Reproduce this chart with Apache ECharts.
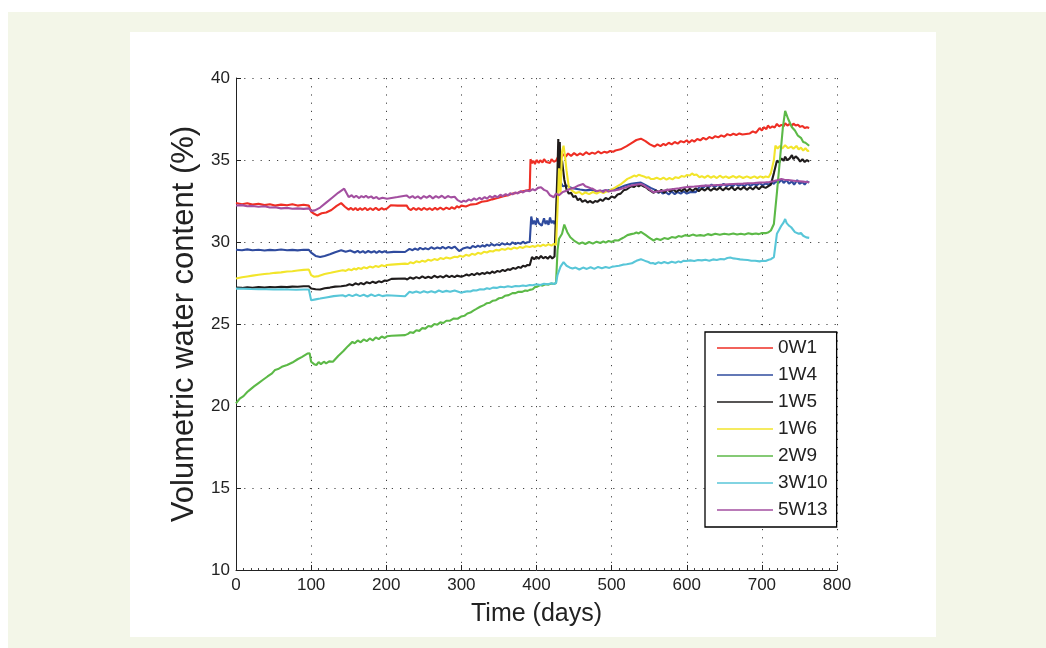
<!DOCTYPE html>
<html>
<head>
<meta charset="utf-8">
<script src="https://cdn.jsdelivr.net/npm/echarts@6/dist/echarts.min.js"></script>
<style>
html,body{margin:0;padding:0;background:#ffffff;}
#chart{width:1046px;height:648px;}
</style>
</head>
<body>
<div id="chart"></div>
<script>
const seriesNames = ['0W1','1W4','1W5','1W6','2W9','3W10','5W13'];
const xTicks = [0,100,200,300,400,500,600,700,800];
const yTicks = [10,15,20,25,30,35,40];

const s0W1 = [[0,32.38],[8,32.3],[15,32.36],[22,32.28],[30,32.33],[38,32.25],[45,32.3],[52,32.22],[60,32.28],[68,32.24],[75,32.3],[82,32.22],[90,32.27],[97,32.22],[100,31.85],[104,31.72],[108,31.62],[114,31.75],[120,31.8],[127,31.95],[134,32.2],[140,32.37],[145,32.15],[150,31.97],[153,32.08],[156,31.95],[159,32.07],[162,31.93],[165,32.06],[168,31.96],[172,32.08],[175,31.94],[179,32.06],[182,31.95],[186,32.08],[190,31.95],[194,32.07],[197,31.98],[201,32.04],[203,32.0],[206,32.24],[215,32.22],[227,32.23],[230,32.02],[233,31.95],[236,32.08],[240,31.96],[243,32.06],[247,31.95],[250,32.08],[254,31.97],[258,32.06],[261,31.95],[265,32.08],[268,31.98],[272,32.1],[276,31.98],[280,32.1],[284,32.0],[287,32.12],[291,32.02],[294,32.18],[297,32.1],[300,32.22],[306,32.17],[312,32.28],[320,32.32],[327,32.45],[334,32.5],[341,32.6],[348,32.68],[355,32.78],[362,32.85],[368,32.95],[375,33.0],[382,33.1],[388,33.15],[391,33.18],[392,35.05],[394,34.8],[396,34.95],[398,34.75],[400,35.0],[403,34.82],[405,34.98],[408,34.85],[410,35.05],[413,34.88],[415,34.98],[418,34.82],[420,35.05],[423,34.9],[426,34.95],[430,35.3],[433,35.15],[436,35.35],[439,35.2],[442,35.4],[446,35.25],[450,35.42],[454,35.28],[458,35.4],[462,35.3],[466,35.48],[470,35.35],[474,35.45],[478,35.38],[482,35.52],[486,35.4],[490,35.5],[494,35.45],[498,35.55],[502,35.5],[505,35.58],[512,35.65],[520,35.85],[527,36.05],[533,36.22],[539,36.3],[545,36.15],[551,35.95],[557,35.82],[561,35.95],[565,35.85],[569,35.98],[572,35.9],[576,36.05],[580,35.95],[584,36.1],[588,36.0],[592,36.15],[596,36.08],[600,36.2],[603,36.05],[607,36.22],[610,36.12],[614,36.28],[618,36.2],[622,36.35],[626,36.25],[630,36.4],[634,36.32],[638,36.45],[642,36.38],[646,36.5],[650,36.42],[654,36.58],[658,36.5],[662,36.6],[666,36.52],[670,36.62],[674,36.55],[684,36.62],[688,36.75],[692,36.65],[697,36.95],[700,36.8],[703,37.0],[706,36.88],[708,37.1],[711,36.95],[714,37.05],[717,36.98],[720,37.2],[723,37.05],[726,37.15],[729,37.05],[731,37.25],[734,37.1],[737,37.2],[740,37.08],[742,37.22],[745,37.1],[748,37.15],[751,37.02],[754,37.08],[757,36.95],[760,37.0],[763,36.95]];

const s1W4 = [[0,29.53],[8,29.5],[15,29.55],[22,29.5],[30,29.53],[38,29.48],[45,29.52],[52,29.5],[60,29.54],[68,29.5],[75,29.52],[82,29.49],[90,29.53],[97,29.52],[100,29.35],[106,29.15],[112,29.08],[118,29.15],[125,29.25],[132,29.38],[140,29.5],[146,29.4],[152,29.48],[158,29.36],[162,29.46],[165,29.35],[169,29.44],[172,29.34],[176,29.45],[180,29.36],[184,29.44],[187,29.34],[191,29.45],[194,29.36],[198,29.44],[201,29.36],[210,29.4],[225,29.39],[231,29.58],[235,29.5],[238,29.6],[242,29.52],[245,29.64],[249,29.55],[252,29.62],[256,29.55],[260,29.68],[264,29.58],[268,29.66],[272,29.6],[275,29.7],[279,29.6],[283,29.7],[287,29.62],[291,29.72],[297,29.45],[302,29.6],[308,29.68],[312,29.62],[315,29.75],[319,29.68],[322,29.78],[325,29.7],[328,29.8],[331,29.72],[334,29.84],[337,29.76],[340,29.88],[344,29.78],[347,29.86],[351,29.8],[354,29.92],[358,29.84],[361,29.9],[365,29.84],[368,29.98],[372,29.88],[375,29.95],[379,29.9],[382,30.02],[385,29.92],[388,29.98],[391,30.0],[393,31.55],[395,31.1],[397,31.3],[399,31.05],[401,31.45],[403,31.15],[405,31.2],[407,31.0],[410,31.45],[412,31.1],[414,31.3],[416,31.05],[418,31.5],[420,31.15],[422,31.3],[424,31.1],[426,31.35],[428,33.0],[431,33.75],[435,33.4],[440,33.45],[446,33.3],[452,33.25],[458,33.2],[465,33.15],[472,33.18],[480,33.1],[488,33.12],[495,33.15],[502,33.2],[510,33.3],[518,33.45],[526,33.55],[533,33.6],[539,33.62],[546,33.45],[552,33.3],[558,33.18],[562,33.0],[565,33.1],[568,32.95],[572,33.05],[576,32.9],[580,33.08],[584,32.92],[588,33.05],[592,32.95],[596,33.08],[600,32.95],[605,33.05],[612,33.04],[618,33.42],[622,33.3],[625,33.45],[629,33.32],[633,33.5],[637,33.35],[641,33.48],[645,33.38],[649,33.55],[653,33.4],[657,33.5],[661,33.38],[665,33.55],[669,33.42],[673,33.52],[677,33.4],[681,33.56],[685,33.42],[689,33.55],[693,33.45],[697,33.6],[701,33.45],[705,33.58],[709,33.48],[712,33.65],[716,33.55],[719,33.72],[722,33.6],[726,33.8],[729,33.6],[733,33.78],[736,33.55],[740,33.7],[743,33.5],[747,33.78],[750,33.55],[754,33.65],[757,33.5],[760,33.7],[763,33.62]];

const s1W5 = [[0,27.22],[8,27.2],[15,27.24],[22,27.21],[30,27.25],[38,27.22],[45,27.26],[52,27.24],[60,27.27],[68,27.25],[75,27.28],[82,27.27],[90,27.3],[97,27.3],[100,27.16],[106,27.12],[112,27.1],[118,27.18],[125,27.22],[132,27.28],[140,27.3],[147,27.35],[151,27.42],[155,27.36],[159,27.48],[163,27.4],[166,27.5],[170,27.42],[174,27.55],[178,27.48],[182,27.58],[186,27.5],[190,27.6],[194,27.55],[198,27.65],[201,27.63],[207,27.75],[225,27.77],[228,27.72],[232,27.84],[236,27.76],[240,27.86],[244,27.78],[248,27.9],[252,27.8],[256,27.88],[260,27.8],[264,27.94],[268,27.84],[272,27.92],[276,27.84],[280,27.96],[284,27.86],[287,27.94],[291,27.86],[294,27.95],[300,27.88],[304,27.95],[307,28.02],[310,27.95],[314,28.06],[317,27.98],[321,28.1],[324,28.02],[328,28.12],[331,28.05],[334,28.15],[338,28.08],[341,28.2],[344,28.12],[348,28.24],[351,28.18],[355,28.3],[358,28.22],[362,28.34],[365,28.3],[369,28.42],[372,28.36],[376,28.48],[379,28.42],[382,28.55],[385,28.5],[388,28.6],[391,28.58],[394,29.08],[397,28.95],[400,29.1],[403,28.98],[406,29.15],[409,29.0],[412,29.1],[415,28.98],[418,29.14],[421,29.0],[424,29.12],[426,29.1],[428,34.5],[429,36.28],[430,33.5],[431,36.1],[432,34.0],[434,34.96],[437,33.8],[440,33.2],[443,32.95],[446,33.0],[449,32.75],[452,32.8],[455,32.55],[458,32.65],[461,32.45],[465,32.55],[468,32.4],[471,32.5],[475,32.38],[478,32.5],[481,32.45],[485,32.6],[488,32.5],[492,32.68],[496,32.6],[500,32.78],[504,32.7],[508,32.9],[512,32.95],[516,33.15],[520,33.2],[526,33.4],[530,33.35],[533,33.48],[536,33.4],[539,33.48],[543,33.38],[546,33.32],[549,33.2],[552,33.12],[556,33.0],[559,33.15],[563,33.02],[566,33.18],[570,33.0],[574,33.2],[578,33.08],[582,33.22],[586,33.05],[590,33.2],[593,33.1],[597,33.25],[600,33.08],[604,33.24],[608,33.12],[612,33.28],[616,33.1],[620,33.26],[624,33.14],[628,33.3],[632,33.12],[636,33.28],[640,33.18],[644,33.32],[648,33.15],[652,33.3],[656,33.2],[660,33.35],[664,33.15],[668,33.32],[672,33.2],[676,33.36],[680,33.18],[684,33.34],[688,33.2],[692,33.38],[696,33.22],[700,33.4],[705,33.3],[712,33.5],[716,34.2],[720,34.96],[723,34.85],[726,35.1],[729,34.95],[731,35.2],[734,34.98],[737,35.1],[740,35.3],[742,35.05],[745,35.22],[748,35.1],[751,34.9],[754,35.05],[757,34.88],[760,35.0],[763,34.9]];

const s1W6 = [[0,27.77],[8,27.85],[15,27.9],[22,27.95],[30,28.0],[38,28.05],[45,28.08],[52,28.12],[60,28.15],[68,28.2],[75,28.22],[82,28.26],[90,28.3],[97,28.32],[100,27.98],[104,27.88],[110,27.92],[118,28.05],[126,28.12],[134,28.2],[142,28.28],[146,28.24],[150,28.34],[154,28.28],[157,28.38],[160,28.32],[163,28.42],[167,28.36],[170,28.46],[174,28.4],[178,28.5],[182,28.44],[186,28.54],[190,28.48],[194,28.58],[198,28.52],[201,28.6],[207,28.62],[225,28.68],[229,28.66],[232,28.76],[236,28.7],[240,28.82],[244,28.76],[248,28.86],[252,28.8],[256,28.92],[260,28.86],[264,28.96],[268,28.9],[272,29.02],[276,28.96],[280,29.06],[285,29.0],[291,29.1],[295,29.08],[298,29.16],[302,29.1],[306,29.22],[310,29.16],[314,29.28],[318,29.22],[322,29.34],[326,29.28],[330,29.4],[334,29.36],[338,29.45],[342,29.42],[346,29.52],[350,29.48],[354,29.58],[358,29.52],[362,29.62],[366,29.56],[370,29.66],[374,29.6],[378,29.7],[382,29.64],[386,29.74],[391,29.7],[395,29.76],[398,29.7],[402,29.8],[405,29.74],[409,29.84],[412,29.76],[416,29.86],[420,29.78],[423,29.88],[426,29.82],[428,32.0],[430,34.5],[432,33.0],[434,35.5],[436,35.87],[438,35.2],[440,34.35],[443,33.34],[448,33.1],[452,32.98],[457,33.05],[461,32.9],[465,33.02],[470,32.92],[475,33.05],[480,32.95],[485,33.08],[489,32.98],[492,33.06],[496,33.1],[500,33.2],[504,33.3],[509,33.44],[513,33.55],[517,33.7],[521,33.85],[526,33.95],[530,34.05],[533,34.0],[536,34.1],[539,34.05],[543,34.0],[546,33.92],[549,33.95],[552,33.85],[556,33.84],[560,33.92],[565,33.82],[569,33.92],[573,33.8],[577,33.9],[581,33.82],[585,33.95],[589,33.9],[593,34.02],[597,33.98],[600,34.08],[604,34.05],[607,34.18],[610,34.08],[613,34.12],[617,33.95],[620,34.02],[624,33.92],[628,34.05],[632,33.92],[636,34.02],[640,33.9],[644,34.04],[648,33.92],[652,34.0],[656,33.9],[662,34.02],[666,33.92],[670,34.02],[675,33.9],[680,34.0],[685,33.9],[690,34.0],[694,33.9],[698,34.0],[702,33.92],[705,34.0],[709,33.95],[712,34.2],[716,35.0],[718,35.87],[721,35.7],[724,35.85],[727,35.7],[731,35.9],[735,35.72],[739,35.82],[742,35.68],[746,35.86],[749,35.65],[752,35.75],[755,35.58],[758,35.72],[761,35.55],[763,35.57]];

const s2W9 = [[0,20.16],[5,20.45],[10,20.6],[15,20.85],[18,20.97],[24,21.2],[30,21.4],[36,21.6],[42,21.8],[48,21.99],[52,22.2],[56,22.25],[61,22.39],[68,22.5],[75,22.65],[82,22.85],[88,23.0],[95,23.2],[98,23.22],[100,22.7],[104,22.55],[107,22.5],[110,22.68],[113,22.55],[117,22.7],[120,22.6],[124,22.72],[129,22.7],[136,23.05],[143,23.35],[149,23.65],[155,23.91],[158,23.82],[162,24.0],[166,23.88],[170,24.06],[174,23.95],[178,24.12],[182,24.0],[186,24.18],[190,24.08],[194,24.24],[198,24.15],[201,24.25],[207,24.28],[225,24.32],[229,24.4],[232,24.5],[236,24.46],[240,24.62],[244,24.58],[248,24.75],[252,24.72],[256,24.88],[260,24.84],[264,25.0],[268,24.96],[272,25.1],[276,25.06],[280,25.2],[285,25.2],[290,25.34],[295,25.32],[300,25.46],[304,25.5],[308,25.64],[312,25.7],[316,25.82],[320,25.92],[325,26.05],[330,26.15],[334,26.27],[338,26.3],[342,26.42],[346,26.45],[350,26.57],[354,26.6],[358,26.72],[363,26.76],[368,26.88],[372,26.88],[376,26.97],[381,26.96],[385,27.04],[388,27.02],[391,27.08],[395,27.12],[398,27.25],[401,27.28],[405,27.38],[408,27.34],[412,27.42],[416,27.4],[420,27.47],[423,27.44],[426,27.5],[428,29.5],[430,30.2],[434,30.5],[437,31.06],[441,30.6],[445,30.29],[451,30.05],[457,29.89],[461,29.98],[465,29.88],[470,30.0],[475,29.9],[480,30.02],[485,29.94],[489,30.04],[492,29.96],[496,30.06],[500,30.0],[504,30.1],[509,30.09],[513,30.2],[517,30.3],[521,30.42],[526,30.48],[530,30.52],[533,30.58],[536,30.52],[539,30.62],[543,30.5],[546,30.4],[549,30.3],[552,30.2],[556,30.09],[560,30.2],[565,30.12],[570,30.24],[575,30.18],[580,30.3],[585,30.26],[589,30.36],[593,30.32],[598,30.42],[603,30.36],[608,30.45],[613,30.38],[618,30.42],[623,30.38],[628,30.48],[633,30.42],[638,30.5],[644,30.44],[650,30.5],[656,30.46],[662,30.52],[667,30.46],[672,30.5],[677,30.46],[682,30.54],[687,30.48],[692,30.52],[696,30.48],[700,30.55],[705,30.54],[709,30.6],[712,30.7],[716,31.1],[720,33.0],[724,35.0],[728,37.0],[731,38.0],[735,37.5],[740,37.0],[744,36.8],[748,36.48],[752,36.35],[755,36.1],[758,36.05],[760,35.95],[763,35.87]];

const s3W10 = [[0,27.16],[10,27.15],[20,27.13],[30,27.12],[40,27.12],[50,27.1],[60,27.11],[70,27.1],[80,27.09],[90,27.1],[97,27.1],[100,26.45],[106,26.5],[112,26.55],[120,26.62],[130,26.7],[142,26.75],[146,26.68],[150,26.78],[155,26.7],[160,26.8],[165,26.7],[170,26.78],[175,26.68],[180,26.8],[185,26.7],[190,26.78],[195,26.7],[201,26.75],[225,26.69],[231,26.96],[235,26.9],[240,26.98],[245,26.9],[250,27.0],[255,26.92],[260,27.0],[265,26.92],[270,27.04],[275,26.95],[280,27.02],[285,26.96],[291,27.04],[300,26.9],[304,26.96],[308,27.0],[312,26.98],[316,27.06],[320,27.04],[325,27.12],[330,27.1],[334,27.18],[338,27.14],[342,27.22],[347,27.2],[352,27.27],[357,27.24],[362,27.3],[367,27.26],[372,27.32],[377,27.3],[382,27.35],[386,27.32],[391,27.38],[395,27.36],[400,27.42],[405,27.38],[410,27.45],[415,27.42],[420,27.48],[423,27.44],[426,27.5],[428,28.0],[432,28.5],[436,28.77],[440,28.55],[444,28.45],[448,28.38],[452,28.44],[457,28.32],[462,28.44],[467,28.36],[472,28.46],[477,28.36],[482,28.48],[487,28.4],[492,28.48],[497,28.42],[501,28.5],[505,28.52],[510,28.55],[515,28.62],[520,28.64],[527,28.7],[530,28.78],[533,28.85],[536,28.9],[539,28.95],[543,28.88],[546,28.82],[549,28.78],[552,28.7],[555,28.72],[558,28.66],[562,28.76],[566,28.7],[570,28.78],[575,28.7],[580,28.8],[585,28.74],[589,28.82],[592,28.76],[596,28.86],[599,28.84],[605,28.88],[610,28.84],[615,28.9],[620,28.88],[625,28.92],[630,28.86],[635,28.94],[640,28.9],[645,28.96],[650,28.94],[654,29.02],[658,29.05],[662,29.0],[666,28.98],[671,28.94],[676,28.92],[681,28.9],[686,28.86],[691,28.86],[697,28.82],[701,28.86],[705,28.84],[709,28.92],[712,28.95],[716,29.08],[720,30.5],[723,30.75],[726,31.0],[729,31.2],[731,31.4],[733,31.15],[736,31.0],[739,30.9],[741,30.8],[744,30.6],[746,30.65],[749,30.5],[752,30.55],[755,30.38],[757,30.45],[759,30.28],[761,30.32],[763,30.25]];

const s5W13 = [[0,32.23],[8,32.25],[15,32.18],[22,32.2],[30,32.15],[38,32.18],[45,32.1],[52,32.12],[60,32.05],[68,32.08],[75,32.03],[82,32.05],[90,32.02],[97,32.05],[100,31.9],[105,31.93],[112,32.1],[120,32.4],[128,32.7],[136,33.0],[144,33.25],[150,32.74],[154,32.85],[157,32.72],[160,32.82],[164,32.68],[167,32.8],[170,32.72],[173,32.82],[176,32.7],[180,32.78],[183,32.66],[187,32.74],[190,32.62],[195,32.7],[201,32.64],[215,32.74],[227,32.84],[231,32.7],[235,32.8],[238,32.68],[242,32.78],[246,32.64],[250,32.8],[254,32.7],[258,32.82],[262,32.66],[266,32.8],[270,32.7],[274,32.82],[278,32.68],[282,32.8],[286,32.72],[291,32.76],[295,32.55],[300,32.43],[303,32.52],[306,32.46],[310,32.6],[313,32.52],[317,32.66],[320,32.56],[324,32.7],[327,32.6],[331,32.74],[334,32.64],[338,32.8],[341,32.7],[345,32.82],[348,32.72],[352,32.88],[355,32.8],[359,32.92],[362,32.84],[365,32.98],[368,32.9],[372,33.02],[375,32.96],[379,33.1],[382,33.02],[386,33.14],[391,33.1],[395,33.22],[398,33.15],[402,33.3],[406,33.34],[410,33.18],[414,33.1],[418,32.85],[423,32.73],[426,32.95],[430,32.85],[435,33.05],[440,33.13],[445,33.25],[450,33.3],[456,33.45],[462,33.54],[465,33.4],[468,33.35],[472,33.28],[475,33.24],[480,33.1],[485,33.15],[489,33.05],[492,33.18],[496,33.08],[500,33.13],[505,33.15],[510,33.2],[514,33.26],[518,33.32],[522,33.38],[526,33.44],[530,33.48],[533,33.5],[536,33.52],[539,33.54],[543,33.45],[546,33.35],[549,33.25],[552,33.15],[556,33.03],[560,33.08],[565,33.1],[570,33.14],[575,33.18],[580,33.22],[585,33.25],[590,33.28],[598,33.34],[604,33.36],[610,33.38],[615,33.4],[620,33.42],[627,33.44],[635,33.46],[642,33.48],[650,33.5],[656,33.52],[662,33.54],[668,33.55],[675,33.56],[682,33.58],[690,33.6],[697,33.62],[705,33.64],[710,33.66],[715,33.7],[720,33.76],[726,33.84],[730,33.8],[735,33.78],[740,33.75],[745,33.72],[750,33.7],[755,33.68],[759,33.66],[763,33.64]];

const seriesData = [s0W1, s1W4, s1W5, s1W6, s2W9, s3W10, s5W13];
const colors = ['#ee2e24','#2f4b9e','#1f1c1c','#f2e52b','#5cb947','#58c6d8','#a34fa0'];

const chart = echarts.init(document.getElementById('chart'), null, {renderer:'canvas'});
const font = 'Liberation Sans, Arial, Helvetica, sans-serif';

chart.setOption({
  animation: false,
  backgroundColor: 'transparent',
  color: colors,
  graphic: [
    {type:'rect', z:-10, silent:true, shape:{x:8,y:12,width:1038,height:636}, style:{fill:'#f3f6e8'}},
    {type:'rect', z:-9, silent:true, shape:{x:130,y:32,width:806,height:605}, style:{fill:'#ffffff'}}
  ],
  grid: {left:236, right:209, top:78, bottom:78, containLabel:false},
  legend: {
    orient:'vertical', left:705, top:332,
    data: seriesNames,
    icon:'rect', itemWidth:56, itemHeight:1.6, itemGap:7,
    padding:[6,9,7,12],
    backgroundColor:'#ffffff', borderColor:'#000', borderWidth:1.3,
    textStyle:{fontFamily:font, fontSize:19, color:'#222', lineHeight:20}
  },
  xAxis: {
    type:'value', min:xTicks[0], max:xTicks[xTicks.length-1], interval:100,
    name:'Time (days)', nameLocation:'middle', nameGap:32,
    nameTextStyle:{fontFamily:font, fontSize:25, color:'#222'},
    axisLine:{show:true, lineStyle:{color:'#222', width:1}},
    axisTick:{show:true, inside:true, length:5, lineStyle:{color:'#222'}},
    minorTick:{show:true, splitNumber:10, length:2, lineStyle:{color:'#444'}},
    axisLabel:{fontFamily:font, fontSize:17, color:'#222', margin:7},
    splitLine:{show:true, lineStyle:{color:'#444', width:1, type:[1.2,7]}}
  },
  yAxis: {
    type:'value', min:yTicks[0], max:yTicks[yTicks.length-1], interval:5,
    name:'Volumetric water content (%)', nameLocation:'middle', nameGap:35,
    nameTextStyle:{fontFamily:font, fontSize:31, color:'#222'},
    axisLine:{show:true, lineStyle:{color:'#222', width:1}},
    axisTick:{show:true, inside:true, length:5, lineStyle:{color:'#222'}},
    axisLabel:{fontFamily:font, fontSize:17, color:'#222', margin:6},
    splitLine:{show:true, lineStyle:{color:'#444', width:1, type:[1.2,7]}}
  },
  series: seriesNames.map((n,i)=>({
    name:n, type:'line', data:seriesData[i], showSymbol:false, symbol:'none',
    smooth:false, lineStyle:{width:2.1, color:colors[i]}, itemStyle:{color:colors[i]},
    z: 2+i
  }))
});
</script>
</body>
</html>
